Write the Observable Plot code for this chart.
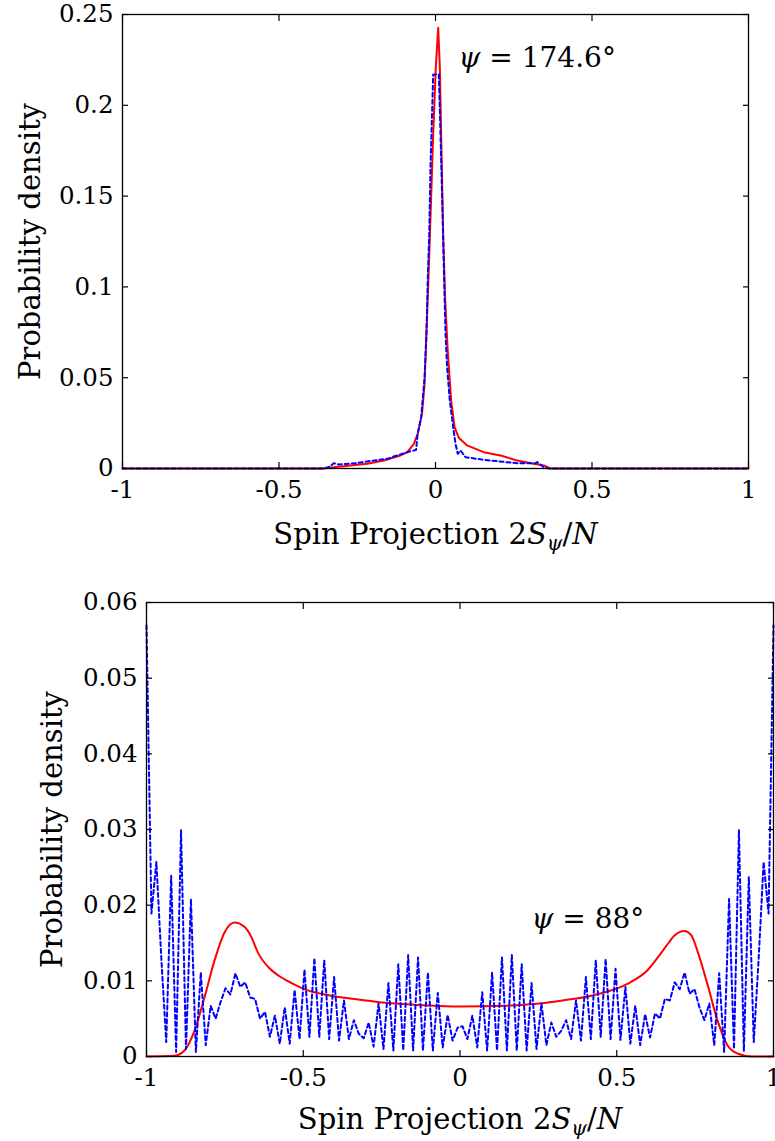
<!DOCTYPE html>
<html><head><meta charset="utf-8">
<script src="https://cdn.jsdelivr.net/npm/d3@7"></script>
<script src="https://cdn.jsdelivr.net/npm/@observablehq/plot@0.6"></script>
<style>
html,body{margin:0;padding:0;background:#fff;}
#chart{width:775px;}
#chart svg{display:block;}
#chart svg, #chart svg text, #chart svg g{font-family:"DejaVu Serif", serif !important;}
</style></head><body><div id="chart"></div>
<script>
// ---------- data ----------
const N = 127; // number of spins: lower panel sampled at 2m/N, m = -N/2 .. N/2

const xTicks = [-1, -0.5, 0, 0.5, 1];
const xTickLabels = ["-1", "-0.5", "0", "0.5", "1"];

const topYTicks = [0, 0.05, 0.1, 0.15, 0.2, 0.25];
const topYTickLabels = ["0", "0.05", "0.1", "0.15", "0.2", "0.25"];
const botYTicks = [0, 0.01, 0.02, 0.03, 0.04, 0.05, 0.06];
const botYTickLabels = ["0", "0.01", "0.02", "0.03", "0.04", "0.05", "0.06"];

// top panel (psi = 174.6 deg)
const topRedX = [-1, -0.357, -0.325, -0.272, -0.218, -0.165, -0.112, -0.090, -0.069, -0.057, -0.043, -0.035, -0.025, -0.016, -0.0073, 0.001, 0.0086, 0.0138, 0.018, 0.0245, 0.031, 0.039, 0.050, 0.061, 0.0745, 0.101, 0.154, 0.208, 0.261, 0.314, 0.346, 0.367, 1];
const topRedY = [0, 0, 0.0007, 0.0017, 0.0026, 0.0044, 0.0072, 0.0090, 0.0136, 0.0191, 0.0301, 0.0466, 0.0925, 0.1384, 0.1843, 0.221, 0.2427, 0.221, 0.1843, 0.1292, 0.0925, 0.065, 0.0374, 0.0228, 0.0169, 0.0127, 0.0090, 0.0072, 0.0044, 0.0026, 0.0017, 0, 0];

const topBlueX = [-1, -0.36, -0.34, -0.325, -0.31, -0.25, -0.218, -0.15, -0.133, -0.080, -0.062, -0.057, -0.046, -0.035, -0.029, -0.0246, -0.020, -0.016, -0.0073, 0.0106, 0.016, 0.0214, 0.0266, 0.032, 0.037, 0.0457, 0.0565, 0.064, 0.071, 0.080, 0.096, 0.154, 0.261, 0.3195, 0.325, 0.346, 0.362, 1];
const topBlueY = [0, 0, 0.0008, 0.0029, 0.0022, 0.0030, 0.0039, 0.0055, 0.0066, 0.0095, 0.0102, 0.019, 0.028, 0.050, 0.074, 0.105, 0.129, 0.166, 0.217, 0.217, 0.184, 0.148, 0.111, 0.074, 0.056, 0.0374, 0.0228, 0.0136, 0.0081, 0.0099, 0.0062, 0.0048, 0.0029, 0.0029, 0.0035, 0.0007, 0, 0];

// bottom panel (psi = 88 deg)
const botRedX = [-1, -0.911, -0.879, -0.847, -0.815, -0.783, -0.751, -0.719, -0.687, -0.668, -0.643, -0.611, -0.579, -0.537, -0.483, -0.419, -0.337, -0.238, -0.129, 0.0016, 0.148, 0.254, 0.327, 0.426, 0.534, 0.598, 0.640, 0.665, 0.684, 0.716, 0.738, 0.757, 0.789, 0.821, 0.853, 0.885, 0.930, 1];
const botRedY = [0, 0.0001, 0.0008, 0.0034, 0.0078, 0.0127, 0.0164, 0.0177, 0.0171, 0.0160, 0.0136, 0.0118, 0.0107, 0.0097, 0.0087, 0.0081, 0.0076, 0.0071, 0.0068, 0.0066, 0.0067, 0.0070, 0.0074, 0.0081, 0.0096, 0.0114, 0.0136, 0.0150, 0.0160, 0.0166, 0.0160, 0.0140, 0.0096, 0.0048, 0.0015, 0.0004, 0, 0];

const botBlueY = [
  0.057, 0.0189, 0.0257, 0.013, 0.0019, 0.0239, 0.0006, 0.0299, 0.0010, 0.0208,
  0.0006, 0.0111, 0.0015, 0.0067, 0.0050, 0.0072, 0.0090, 0.0082, 0.0110, 0.0092,
  0.0098, 0.0078, 0.0076, 0.0050, 0.0059, 0.0026, 0.0054, 0.0017, 0.0065, 0.0017,
  0.0088, 0.0023, 0.0115, 0.0026, 0.0130, 0.0026, 0.0127, 0.0023, 0.0105, 0.0021,
  0.0074, 0.0023, 0.0048, 0.0030, 0.0024, 0.0045, 0.0013, 0.0070, 0.0010, 0.0097,
  0.0008, 0.0122, 0.0008, 0.0134, 0.0008, 0.0131, 0.0008, 0.0111, 0.0008, 0.0084,
  0.0012, 0.0055, 0.0021, 0.0038, 0.0040, 0.0023, 0.0054, 0.0012, 0.0085, 0.0008,
  0.0111, 0.0008, 0.0131, 0.0008, 0.0134, 0.0008, 0.0122, 0.0008, 0.0097, 0.0010,
  0.0070, 0.0015, 0.0045, 0.0026, 0.0034, 0.0048, 0.0023, 0.0074, 0.0021, 0.0105,
  0.0023, 0.0127, 0.0026, 0.0129, 0.0023, 0.0116, 0.0022, 0.0092, 0.0017, 0.0067,
  0.0015, 0.0056, 0.0025, 0.0057, 0.0050, 0.0076, 0.0074, 0.0098, 0.0089, 0.0111,
  0.0083, 0.0089, 0.0065, 0.0048, 0.0070, 0.0015, 0.0110, 0.0006, 0.0208, 0.0010,
  0.0299, 0.0007, 0.0237, 0.0019, 0.013, 0.0257, 0.0189, 0.057
];

const topAnnot = {x: 0.0735, y: 0.226, angle: "174.6°"};
const botAnnot = {x: 0.228, y: 0.0182, angle: "88°"};

// ---------- drawing ----------
const FONT = "'DejaVu Serif', serif";
const RED = "#ff0000", BLUE = "#0000ff";
const TICK_FS = 24.5, LABEL_FS = 29, ANNOT_FS = 28;

function panel(o) {
  const red = o.redX.map((x, i) => ({x, y: o.redY[i]}));
  const blue = o.blueX.map((x, i) => ({x, y: o.blueY[i]}));
  const fmtX = d => xTickLabels[xTicks.indexOf(d)];
  const fmtY = d => o.yLabels[o.yTicks.indexOf(d)];
  const svg = Plot.plot({
    width: 775, height: o.height,
    marginLeft: o.ml, marginRight: o.mr, marginTop: o.mt, marginBottom: o.mb,
    style: {fontFamily: FONT, fontSize: TICK_FS + "px", background: "#fff", color: "#000", overflow: "hidden"},
    x: {domain: [-1, 1], axis: null},
    y: {domain: o.yDomain, axis: null},
    marks: [
      Plot.line(red, {x: "x", y: "y", stroke: RED, strokeWidth: 2, curve: o.redCurve}),
      Plot.line(blue, {x: "x", y: "y", stroke: BLUE, strokeWidth: 2, strokeDasharray: "4,3"}),
      Plot.frame({stroke: "#000", strokeWidth: 1.3}),
      // inward ticks on all four sides
      Plot.axisX(xTicks, {anchor: "bottom", tickSize: 6, dy: -6, fill: "none", label: null, strokeWidth: 1.2}),
      Plot.axisX(xTicks, {anchor: "top", tickSize: 6, dy: 6, fill: "none", label: null, strokeWidth: 1.2}),
      Plot.axisY(o.yTicks, {anchor: "left", tickSize: 6, dx: 6, fill: "none", label: null, strokeWidth: 1.2}),
      Plot.axisY(o.yTicks, {anchor: "right", tickSize: 6, dx: -6, fill: "none", label: null, strokeWidth: 1.2}),
      // tick labels
      Plot.axisX(xTicks, {anchor: "bottom", tickSize: 0, tickPadding: 12, tickFormat: fmtX, stroke: "none", label: null, fontSize: TICK_FS, fill: "#000"}),
      Plot.axisY(o.yTicks, {anchor: "left", tickSize: 0, tickPadding: 9, tickFormat: fmtY, stroke: "none", label: null, fontSize: TICK_FS, fill: "#000"}),
      // axis titles
      Plot.text(["Probability density"], {frameAnchor: "left", dx: o.ylabDx, rotate: -90, fontSize: LABEL_FS, textAnchor: "middle", lineAnchor: "middle", fill: "#000"}),
      Plot.text(["@XLABEL"], {frameAnchor: "bottom", dy: o.xlabDy, fontSize: LABEL_FS, textAnchor: "middle", lineAnchor: "middle", fill: "#000"}),
      // annotation
      Plot.text([o.annot], {x: "x", y: "y", text: d => "@ANNOT" + d.angle, textAnchor: "start", lineAnchor: "middle", fontSize: ANNOT_FS, fill: "#000"})
    ]
  });
  d3.select(svg).selectAll("text").attr("font-family", FONT).each(function () {
    const t = this.textContent;
    const s = d3.select(this);
    if (t === "@XLABEL") {
      s.text(null);
      s.append("tspan").text("Spin Projection 2");
      s.append("tspan").attr("font-style", "italic").text("S");
      s.append("tspan").attr("font-style", "italic").attr("font-size", "20px").attr("dy", "6px").text("ψ");
      s.append("tspan").attr("dy", "-6px").text("/");
      s.append("tspan").attr("font-style", "italic").text("N");
    } else if (t.startsWith("@ANNOT")) {
      const ang = t.slice(6);
      s.text(null);
      s.append("tspan").attr("font-style", "italic").text("ψ");
      s.append("tspan").text(" = " + ang);
    }
  });
  return svg;
}

const root = document.getElementById("chart");
root.appendChild(panel({
  redX: topRedX, redY: topRedY, blueX: topBlueX, blueY: topBlueY,
  yDomain: [0, 0.25], yTicks: topYTicks, yLabels: topYTickLabels,
  height: 570, ml: 122, mr: 27, mt: 14, mb: 102,
  ylabDx: -92, xlabDy: 66, annot: topAnnot, redCurve: "linear"
}));
const botBlueX = botBlueY.map((_, k) => (2 * (k - N / 2)) / N);
root.appendChild(panel({
  redX: botRedX, redY: botRedY, blueX: botBlueX, blueY: botBlueY,
  yDomain: [0, 0.06], yTicks: botYTicks, yLabels: botYTickLabels,
  height: 571, ml: 146, mr: 2, mt: 32, mb: 85,
  ylabDx: -94, xlabDy: 63, annot: botAnnot, redCurve: "monotone-x"
}));
</script>
</body></html>
